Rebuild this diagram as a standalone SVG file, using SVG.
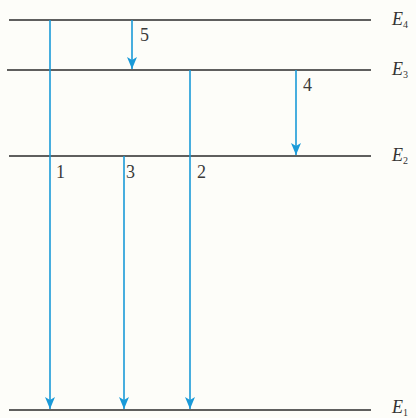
<svg xmlns="http://www.w3.org/2000/svg" width="416" height="418" viewBox="0 0 416 418">
<style>
.lvl{stroke:#2a2a2a;stroke-width:1.6}
.arr{stroke:#1a9ad8;stroke-width:1.6;fill:none;marker-end:url(#ahd)}
.num{font-family:"Liberation Serif",serif;font-size:18px;fill:#3a3a3a}
.e{font-family:"Liberation Serif",serif;font-style:italic;font-size:18px;fill:#333}
.sub{font-size:10px;font-style:normal}
</style>
<defs>
<marker id="ahd" markerUnits="userSpaceOnUse" markerWidth="10" markerHeight="14" viewBox="0 0 10 14" refX="5" refY="13" orient="0">
<path d="M0,1 L5,4 L10,1 L5,13 Z" fill="#1a9ad8"/>
</marker>
</defs>
<rect width="416" height="418" fill="#fdfdf9"/>
<g id="levels">
<g id="E4"><line class="lvl" x1="9" y1="20" x2="371" y2="20"/><text class="e" x="392" y="25">E<tspan class="sub" dy="3">4</tspan></text></g>
<g id="E3"><line class="lvl" x1="7" y1="70" x2="371" y2="70"/><text class="e" x="392" y="75">E<tspan class="sub" dy="3">3</tspan></text></g>
<g id="E2"><line class="lvl" x1="9" y1="156" x2="371" y2="156"/><text class="e" x="392" y="161">E<tspan class="sub" dy="3">2</tspan></text></g>
<g id="E1"><line class="lvl" x1="9" y1="410" x2="371" y2="410"/><text class="e" x="392" y="413">E<tspan class="sub" dy="3">1</tspan></text></g>
</g>
<g id="connectors">
<line class="arr" x1="50" y1="20" x2="50" y2="409"/>
<line class="arr" x1="132" y1="20" x2="132" y2="69"/>
<line class="arr" x1="190" y1="70" x2="190" y2="409"/>
<line class="arr" x1="296" y1="70" x2="296" y2="155"/>
<line class="arr" x1="124" y1="156" x2="124" y2="409"/>
</g>
<g id="labels">
<text class="num" x="140" y="41">5</text>
<text class="num" x="303" y="91">4</text>
<text class="num" x="56" y="178">1</text>
<text class="num" x="126" y="178">3</text>
<text class="num" x="197" y="178">2</text>
</g>
</svg>
